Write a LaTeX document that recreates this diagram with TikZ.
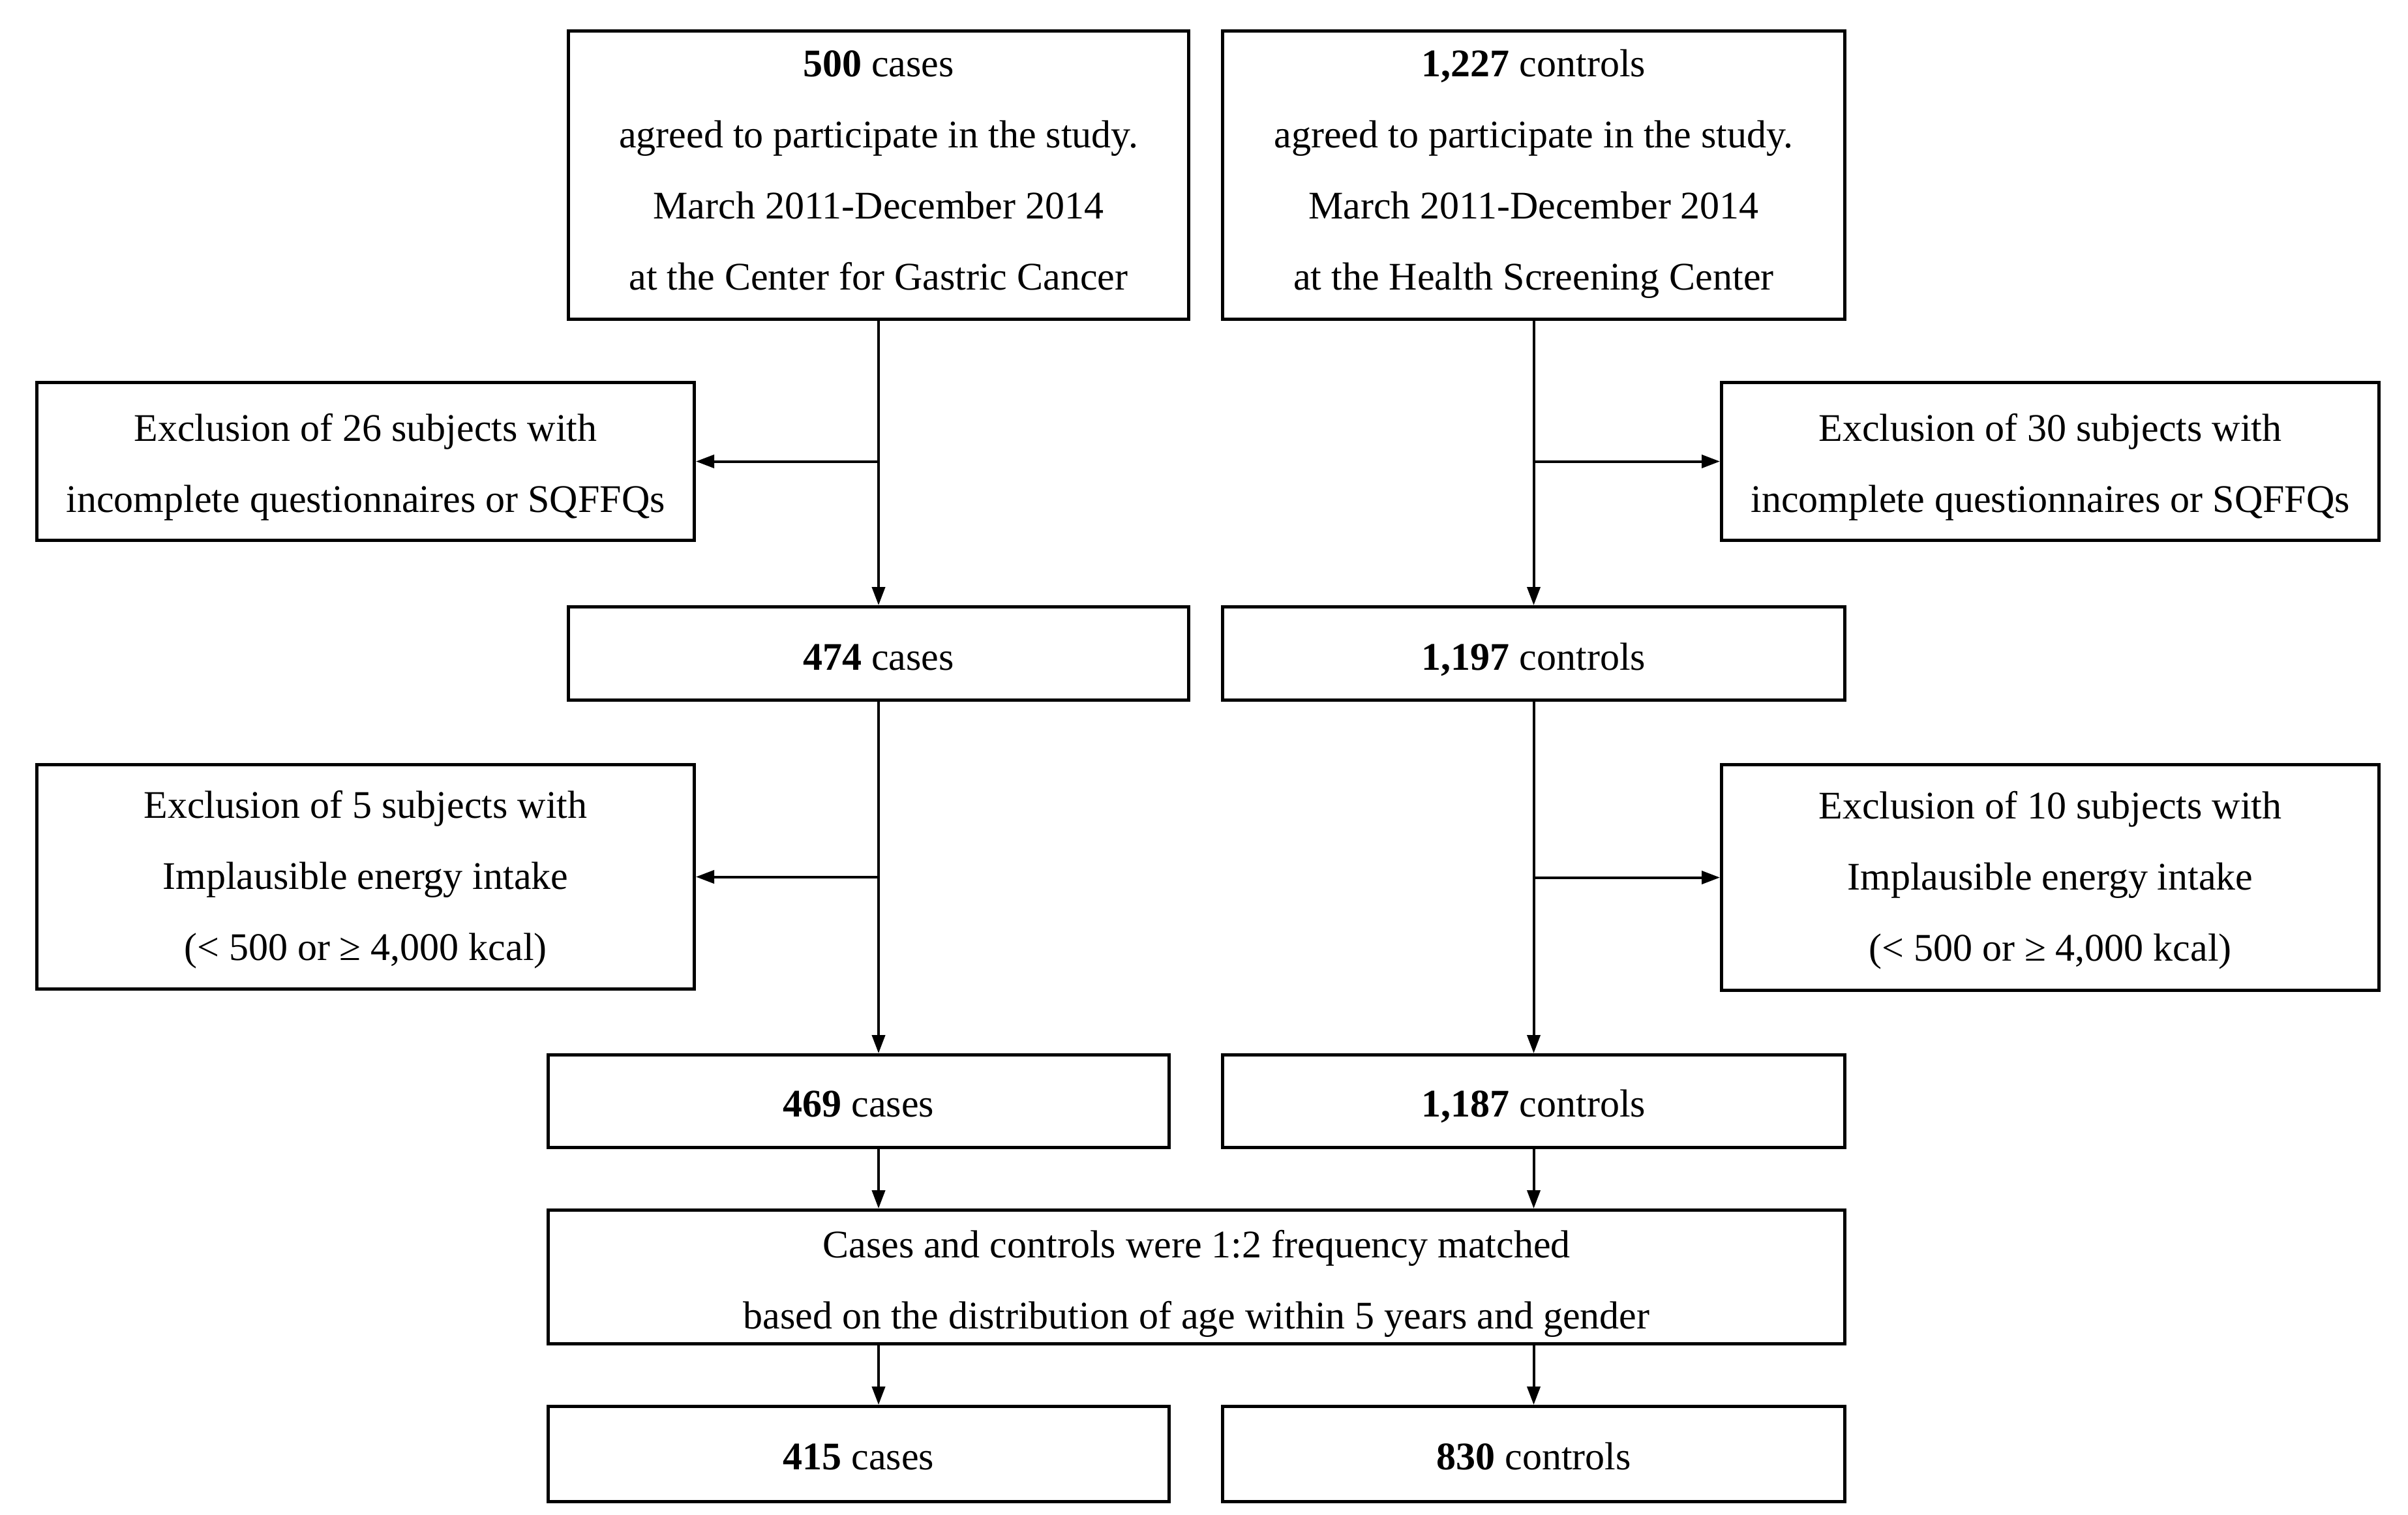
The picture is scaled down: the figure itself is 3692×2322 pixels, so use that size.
\documentclass[tikz,border=0pt]{standalone}
\usepackage{fontspec}
\setmainfont{Liberation Serif}
\usetikzlibrary{arrows.meta}
\newcommand\boxtext[2]{\raisebox{#1}[\dimexpr\height-30pt\relax][\dimexpr\depth-30pt\relax]{\begin{tabular}{@{}c@{}}#2\end{tabular}}}
\begin{document}
\begin{tikzpicture}[x=1pt,y=-1pt,
  box/.style={draw, line width=5pt, anchor=north west, align=center, inner sep=0pt,
    font=\fontsize{60}{109}\selectfont},
  conn/.style={line width=4pt, -{Triangle[length=28pt,width=20pt]}}]
\useasboundingbox (0,0) rectangle (3692,2322);
% row 1
\node[box, minimum width=951pt, minimum height=442pt] (a) at (869,45)
  {\boxtext{9pt}{\textbf{500} cases\\agreed to participate in the study.\\March 2011-December 2014\\at the Center for Gastric Cancer}};
\node[box, minimum width=954pt, minimum height=442pt] (b) at (1872,45)
  {\boxtext{9pt}{\textbf{1,227} controls\\agreed to participate in the study.\\March 2011-December 2014\\at the Health Screening Center}};
% exclusion 1
\node[box, minimum width=1008pt, minimum height=242pt] (e1l) at (54,584)
  {\boxtext{-2pt}{Exclusion of 26 subjects with\\incomplete questionnaires or SQFFQs}};
\node[box, minimum width=1008pt, minimum height=242pt] (e1r) at (2637,584)
  {\boxtext{-2pt}{Exclusion of 30 subjects with\\incomplete questionnaires or SQFFQs}};
% row 2
\node[box, minimum width=951pt, minimum height=143pt] (n474) at (869,928) {\boxtext{-4pt}{\textbf{474} cases}};
\node[box, minimum width=954pt, minimum height=143pt] (n1197) at (1872,928) {\boxtext{-4pt}{\textbf{1,197} controls}};
% exclusion 2
\node[box, minimum width=1008pt, minimum height=344pt] (e2l) at (54,1170)
  {\boxtext{3pt}{Exclusion of 5 subjects with\\Implausible energy intake\\(< 500 or ≥ 4,000 kcal)}};
\node[box, minimum width=1008pt, minimum height=346pt] (e2r) at (2637,1170)
  {\boxtext{3pt}{Exclusion of 10 subjects with\\Implausible energy intake\\(< 500 or ≥ 4,000 kcal)}};
% row 3
\node[box, minimum width=952pt, minimum height=142pt] (n469) at (838,1615) {\boxtext{-2pt}{\textbf{469} cases}};
\node[box, minimum width=954pt, minimum height=142pt] (n1187) at (1872,1615) {\boxtext{-2pt}{\textbf{1,187} controls}};
% matching
\node[box, minimum width=1988pt, minimum height=205pt] (m) at (838,1853)
  {\boxtext{-3pt}{Cases and controls were 1:2 frequency matched\\based on the distribution of age within 5 years and gender}};
% final
\node[box, minimum width=952pt, minimum height=146pt] (n415) at (838,2154) {\boxtext{-2pt}{\textbf{415} cases}};
\node[box, minimum width=954pt, minimum height=146pt] (n830) at (1872,2154) {\boxtext{-2pt}{\textbf{830} controls}};
% connectors
\draw[conn] (a.south) -- (n474.north);
\draw[conn] (a.south |- e1l.east) -- (e1l.east);
\draw[conn] (b.south) -- (n1197.north);
\draw[conn] (b.south |- e1r.west) -- (e1r.west);
\draw[conn] (n474.south) -- (n474.south |- n469.north);
\draw[conn] (n474.south |- e2l.east) -- (e2l.east);
\draw[conn] (n1197.south) -- (n1187.north);
\draw[conn] (n1197.south |- e2r.west) -- (e2r.west);
\draw[conn] (n469.south -| n474.south) -- (m.north -| n474.south);
\draw[conn] (n1187.south) -- (m.north -| n1187.south);
\draw[conn] (m.south -| n474.south) -- (n415.north -| n474.south);
\draw[conn] (m.south -| n1187.south) -- (n830.north);
\end{tikzpicture}
\end{document}
